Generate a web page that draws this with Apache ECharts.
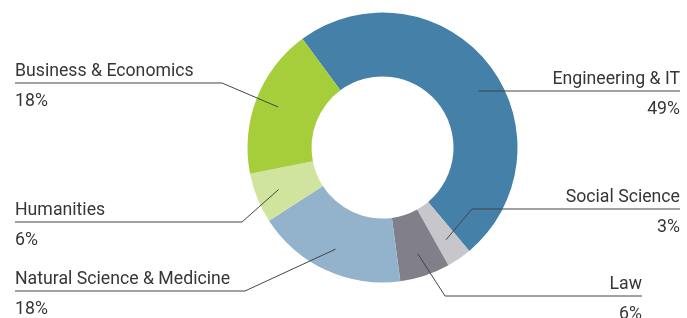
<!DOCTYPE html>
<html><head><meta charset="utf-8">
<style>html,body{margin:0;padding:0;background:#fff}#c{width:687px;height:318px}</style>
<script src="https://cdn.jsdelivr.net/npm/echarts@6/dist/echarts.min.js"></script>
</head><body><div id="c"></div>
<script>
// ---- data ----
const categories = ['Engineering & IT', 'Social Science', 'Law', 'Natural Science & Medicine', 'Humanities', 'Business & Economics'];
const shares = [49, 3, 6, 18, 6, 18];
// ---- styles ----
const colors = ['#4580a8', '#c6c6cb', '#807f8a', '#93b3cd', '#d1e49e', '#a6cd3a'];
// ---- label annotation placement (null bend = straight horizontal leader) ----
const labelLineY = [91, 209, 296, 291, 222, 83];
const labelBendX = [null, 472, 445, 245, 242, 222];
const labelEdgeX = [680, 680, 642, 15, 15, 15];
const textShift = 3.5;

const chart = echarts.init(document.getElementById('c'), null, {renderer: 'canvas'});
const center = [382.5, 147.5];
const startAngle = 126.4;
const font = {fontFamily: 'Roboto', fontSize: 17.7, color: '#363636', lineHeight: 30};

const option = {
  animation: false,
  series: [
    {
      type: 'pie', z: 2, center: center, radius: [71, 135], startAngle: startAngle, clockwise: true,
      silent: true, label: {show: false}, labelLine: {show: false},
      data: categories.map((n, i) => ({name: n, value: shares[i], itemStyle: {color: colors[i]}}))
    },
    {
      type: 'pie', z: 5, center: center, radius: [0, 112], startAngle: startAngle, clockwise: true,
      silent: true, avoidLabelOverlap: false,
      itemStyle: {color: 'rgba(0,0,0,0)'},
      data: categories.map((n, i) => ({name: n, value: shares[i]})),
      label: {
        show: true, position: 'outer', alignTo: 'none',
        formatter: function (p) {
          const s = labelEdgeX[p.dataIndex] < center[0] ? 'l' : 'r';
          return '{n' + s + '|' + p.name + '}\n{p' + s + '|' + p.value + '%}';
        },
        rich: {
          nl: Object.assign({align: 'left'}, font),
          pl: Object.assign({align: 'left'}, font),
          nr: Object.assign({align: 'right'}, font),
          pr: Object.assign({align: 'right'}, font)
        }
      },
      labelLine: {show: true, length: 10, length2: 10, lineStyle: {color: '#454545', width: 1}},
      labelLayout: function (params) {
        const i = params.dataIndex;
        const isLeft = labelEdgeX[i] < center[0];
        const p0 = params.labelLinePoints[0];
        const y = labelLineY[i];
        const pts = labelBendX[i] === null
          ? [[p0[0] + 8, y], [p0[0] + 8, y], [labelEdgeX[i], y]]
          : [p0, [labelBendX[i], y], [labelEdgeX[i], y]];
        return {
          x: labelEdgeX[i], y: y + textShift,
          align: isLeft ? 'left' : 'right', verticalAlign: 'middle',
          labelLinePoints: pts
        };
      }
    }
  ]
};
chart.setOption(option);
</script>
</body></html>
